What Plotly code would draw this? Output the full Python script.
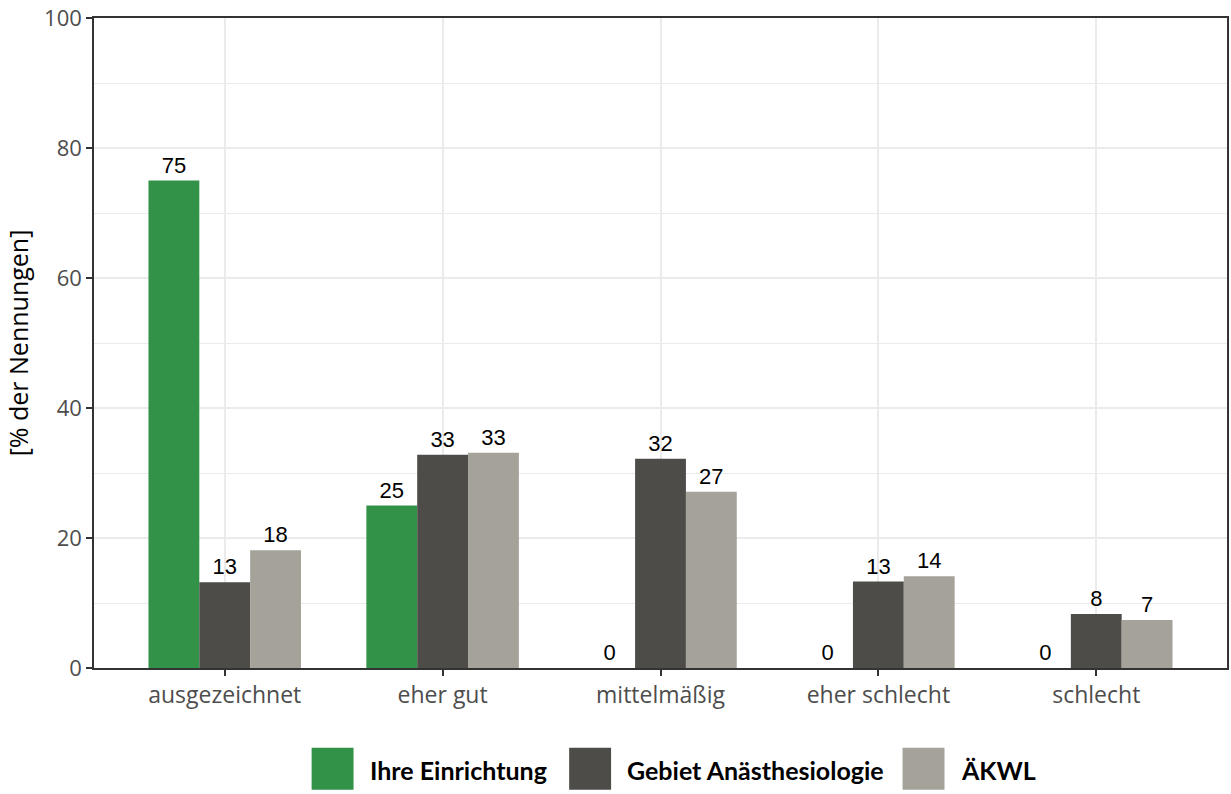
import plotly.graph_objects as go

categories = ["ausgezeichnet", "eher gut", "mittelmäßig", "eher schlecht", "schlecht"]
series_names = ["Ihre Einrichtung", "Gebiet Anästhesiologie", "ÄKWL"]
ihre = [75.0, 25.0, 0.0, 0.0, 0.0]
gebiet = [13.2, 32.8, 32.2, 13.3, 8.3]
aekwl = [18.1, 33.1, 27.1, 14.1, 7.4]
colors = ["#319248", "#4d4c48", "#a5a29a"]
y_ticks = [0, 20, 40, 60, 80, 100]

fig = go.Figure()
for name, vals, col in zip(series_names, [ihre, gebiet, aekwl], colors):
    fig.add_trace(go.Bar(
        x=categories, y=vals, name=name, marker_color=col, marker_line_width=0,
        text=[f"{v:.0f}" for v in vals], textposition="outside", cliponaxis=False,
        constraintext="none",
        textfont=dict(family="Liberation Sans, Arial", size=22, color="#000000"),
        showlegend=False,
    ))

fig.update_layout(
    width=1231, height=794, autosize=False,
    margin=dict(l=94, r=2, t=16, b=126),
    paper_bgcolor="white", plot_bgcolor="white",
    barmode="group", bargap=0.3, bargroupgap=0,
)
fig.update_xaxes(
    range=[-0.6, 4.6], showgrid=True, gridcolor="#ebebeb", gridwidth=2,
    showline=True, linecolor="#333333", linewidth=1.5, mirror=True,
    ticks="outside", ticklen=6, tickcolor="#333333", tickwidth=2,
    tickfont=dict(family="Open Sans", size=23, color="#4d4d4d"),
    zeroline=False,
)
fig.update_yaxes(
    range=[0, 100], tickvals=y_ticks, ticktext=[str(v) for v in y_ticks],
    ticklabeloverflow="allow",
    showgrid=True, gridcolor="#ebebeb", gridwidth=2,
    minor=dict(dtick=10, showgrid=True, gridcolor="#ebebeb", gridwidth=1),
    showline=True, linecolor="#333333", linewidth=1.5, mirror=True,
    ticks="outside", ticklen=6, tickcolor="#333333", tickwidth=2,
    tickfont=dict(family="Open Sans", size=22, color="#4d4d4d"),
    title=dict(text="[% der Nennungen]", font=dict(family="Open Sans", size=25, color="#000000"), standoff=8),
    zeroline=False,
)

# legend drawn at bottom
plot_w, plot_h = 1135, 652
def px(x): return (x - 94) / plot_w
def py(y): return (668 - y) / plot_h
leg_sq = [312, 570, 904]
leg_txt = [368, 626, 961]
for name, col, sx, tx in zip(series_names, colors, leg_sq, leg_txt):
    fig.add_shape(type="rect", xref="paper", yref="paper",
                  x0=px(sx), x1=px(sx + 42), y0=py(790), y1=py(748),
                  fillcolor=col, line_width=0)
    fig.add_annotation(xref="paper", yref="paper", x=px(tx), y=py(770),
                       xanchor="left", yanchor="middle", showarrow=False,
                       text=f"<b>{name}</b>",
                       font=dict(family="Lato", size=25, color="#000000"))

fig.write_html(
    "out.html",
    config={"responsive": False, "displayModeBar": False},
    post_script="document.body.style.margin='0';document.body.style.overflow='hidden';",
)
